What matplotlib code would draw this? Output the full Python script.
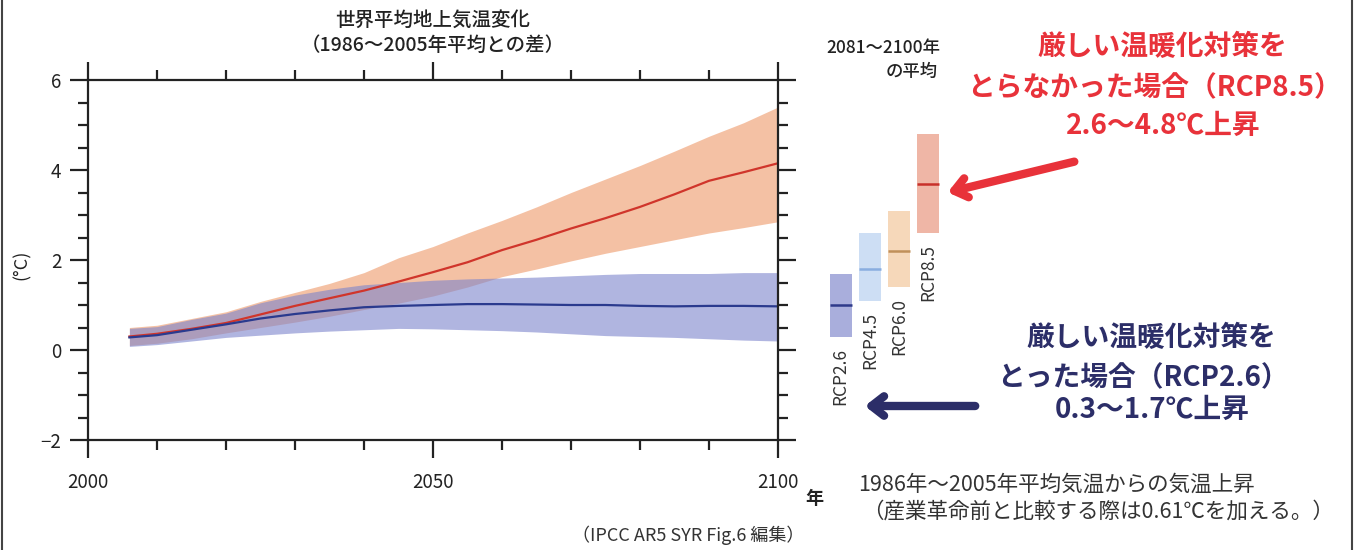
import matplotlib
matplotlib.use("Agg")
import matplotlib.pyplot as plt
from matplotlib.lines import Line2D
from matplotlib.patches import FancyArrowPatch
from matplotlib.ticker import MultipleLocator

plt.rcParams["font.family"] = ["Noto Sans CJK JP", "DejaVu Sans"]

# time series (5-year steps)
years = [2006, 2010, 2015, 2020, 2025, 2030, 2035, 2040, 2045, 2050,
         2055, 2060, 2065, 2070, 2075, 2080, 2085, 2090, 2095, 2100]
rcp85_mean = [0.30, 0.36, 0.47, 0.60, 0.79, 0.98, 1.15, 1.32, 1.52, 1.73,
              1.95, 2.22, 2.45, 2.70, 2.93, 3.18, 3.46, 3.76, 3.95, 4.15]
rcp85_high = [0.50, 0.55, 0.70, 0.85, 1.08, 1.28, 1.48, 1.72, 2.05, 2.30,
              2.60, 2.88, 3.18, 3.50, 3.80, 4.10, 4.42, 4.75, 5.05, 5.40]
rcp85_low = [0.10, 0.15, 0.25, 0.38, 0.50, 0.62, 0.75, 0.90, 1.04, 1.20,
             1.40, 1.63, 1.80, 1.98, 2.15, 2.30, 2.45, 2.60, 2.72, 2.85]
rcp26_mean = [0.28, 0.33, 0.45, 0.57, 0.70, 0.80, 0.88, 0.95, 0.98, 1.00,
              1.02, 1.02, 1.01, 1.00, 1.00, 0.98, 0.97, 0.98, 0.98, 0.97]
rcp26_high = [0.48, 0.52, 0.68, 0.82, 1.05, 1.22, 1.35, 1.45, 1.50, 1.55,
              1.58, 1.60, 1.62, 1.65, 1.68, 1.70, 1.70, 1.70, 1.72, 1.72]
rcp26_low = [0.08, 0.12, 0.20, 0.28, 0.33, 0.38, 0.42, 0.45, 0.48, 0.47,
             0.45, 0.43, 0.40, 0.36, 0.32, 0.30, 0.28, 0.25, 0.22, 0.20]

# 2081-2100 averages
scenarios = ["RCP2.6", "RCP4.5", "RCP6.0", "RCP8.5"]
avg_low = [0.3, 1.1, 1.4, 2.6]
avg_high = [1.7, 2.6, 3.1, 4.8]
avg_mean = [1.0, 1.8, 2.2, 3.7]
bar_colors = ["#a9aedc", "#cddef4", "#f6d8ba", "#efb6a6"]
mean_colors = ["#2e3a8a", "#8aaee0", "#c0905a", "#c8302a"]

W, H = 1358, 550


def px(x, y):
    return x / W, 1 - y / H


fig = plt.figure(figsize=(W / 100, H / 100), dpi=100)

ax = fig.add_axes([88 / W, 110 / H, 690 / W, 360 / H])
ax.fill_between(years, rcp85_low, rcp85_high, color="#ee9868", alpha=0.6, lw=0)
ax.fill_between(years, rcp26_low, rcp26_high, color="#7c84cc", alpha=0.6, lw=0)
ax.plot(years, rcp85_mean, color="#d0352b", lw=1.6)
ax.plot(years, rcp26_mean, color="#2a3a8e", lw=1.6)

ax.set_xlim(2000, 2100)
ax.set_ylim(-2, 6)
ax.set_xticks([2000, 2050, 2100])
ax.set_yticks([-2, 0, 2, 4, 6])
ax.xaxis.set_minor_locator(MultipleLocator(10))
ax.yaxis.set_minor_locator(MultipleLocator(0.5))
ax.tick_params(which="both", direction="out", top=True, right=True,
               width=1.6, labelsize=13.5, colors="#222")
ax.tick_params(which="major", length=13)
ax.tick_params(which="minor", length=7)
ax.tick_params(axis="x", pad=10)
ax.tick_params(axis="y", pad=6)
for s in ax.spines.values():
    s.set_linewidth(1.6)
    s.set_color("#222")
fig.text(*px(22, 265), "(°C)", rotation=90, ha="center", va="center",
         fontsize=13, color="#222")

# side bars
bx = fig.add_axes([826 / W, 110 / H, 117 / W, 360 / H])
bx.bar(range(len(scenarios)), [h - l for l, h in zip(avg_low, avg_high)],
       bottom=avg_low, width=0.75, color=bar_colors, lw=0)
for i, name in enumerate(scenarios):
    bx.hlines(avg_mean[i], i - 0.375, i + 0.375, color=mean_colors[i], lw=1.8)
    bx.text(i, avg_low[i] - 0.25, name, rotation=90, ha="center", va="top",
            fontsize=12.5, color="#333")
bx.set_xlim(-0.5, len(scenarios) - 0.5)
bx.set_ylim(-2, 6)
bx.axis("off")

# titles
fig.text(*px(433, 20), "世界平均地上気温変化", ha="center", va="center",
         fontsize=14, color="#222", weight="medium")
fig.text(*px(433, 45), "（1986～2005年平均との差）", ha="center", va="center",
         fontsize=14, color="#222", weight="medium")
fig.text(*px(940, 48), "2081～2100年", ha="right", va="center",
         fontsize=12.5, color="#222", weight="medium")
fig.text(*px(938, 72), "の平均", ha="right", va="center",
         fontsize=12.5, color="#222", weight="medium")
fig.text(*px(814, 498), "年", ha="center", va="center", fontsize=13,
         color="#222", weight="bold")

red = "#e8323a"
navy = "#2c2e68"
fig.text(*px(1162, 47), "厳しい温暖化対策を", ha="center", va="center",
         fontsize=20, weight="bold", color=red)
fig.text(*px(1154, 88), "とらなかった場合（RCP8.5）", ha="center", va="center",
         fontsize=20, weight="bold", color=red)
fig.text(*px(1163, 126), "2.6～4.8℃上昇", ha="center", va="center",
         fontsize=20, weight="bold", color=red)

fig.text(*px(1151, 338), "厳しい温暖化対策を", ha="center", va="center",
         fontsize=20, weight="bold", color=navy)
fig.text(*px(1143, 378), "とった場合（RCP2.6）", ha="center", va="center",
         fontsize=20, weight="bold", color=navy)
fig.text(*px(1152, 410), "0.3～1.7℃上昇", ha="center", va="center",
         fontsize=20, weight="bold", color=navy)

fig.text(*px(858, 485), "1986年～2005年平均気温からの気温上昇", ha="left",
         va="center", fontsize=15.5, color="#333")
fig.text(*px(862, 512), "（産業革命前と比較する際は0.61℃を加える。）", ha="left",
         va="center", fontsize=15.5, color="#333")
fig.text(*px(688, 535), "（IPCC AR5 SYR Fig.6 編集）", ha="center", va="center",
         fontsize=13, color="#333")

# arrows
fig.add_artist(FancyArrowPatch(px(1077, 161), px(945, 193),
                               transform=fig.transFigure,
                               arrowstyle="->,head_length=9,head_width=7",
                               color=red, lw=6, capstyle="round"))
fig.add_artist(FancyArrowPatch(px(978, 406), px(862, 406),
                               transform=fig.transFigure,
                               arrowstyle="->,head_length=9,head_width=7",
                               color=navy, lw=6, capstyle="round"))

# frame lines left and right
fig.add_artist(Line2D([2 / W, 2 / W], [0, 1], color="#444", lw=1.5))
fig.add_artist(Line2D([1352 / W, 1352 / W], [0, 1], color="#444", lw=1.5))

fig.savefig("out.png", dpi=100)
